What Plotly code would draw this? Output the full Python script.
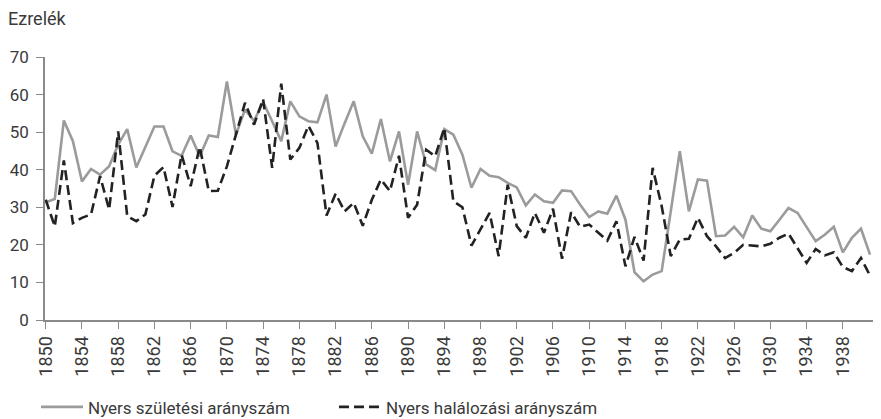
import plotly.graph_objects as go

years = list(range(1850, 1942))

birth_rate = [
    31.3, 32.2, 53.1, 47.6, 36.9, 40.2, 38.7, 40.9, 46.7, 50.8,
    40.6, 46.1, 51.5, 51.5, 44.9, 43.7, 49.1, 43.6, 49.1, 48.7,
    63.5, 49.3, 56.0, 53.0, 58.0, 52.9, 47.6, 58.2, 54.2, 52.9,
    52.6, 60.0, 46.2, 52.4, 58.2, 48.9, 44.3, 53.5, 42.2, 50.2,
    36.0, 50.2, 41.4, 39.9, 50.8, 49.3, 44.0, 35.2, 40.2, 38.4,
    38.0, 36.5, 35.3, 30.5, 33.4, 31.6, 31.2, 34.5, 34.3, 30.7,
    27.4, 28.9, 28.3, 33.1, 26.7, 12.7, 10.3, 12.1, 13.0, 28.9,
    44.9, 28.9, 37.4, 37.1, 22.3, 22.5, 24.8, 22.0, 27.8, 24.3,
    23.6, 26.7, 29.8, 28.5, 24.9, 21.0, 22.7, 24.8, 18.0, 21.9,
    24.3, 17.4,
]

death_rate = [
    32.0, 24.9, 42.5, 25.8, 27.2, 28.1, 38.3, 29.4, 50.2, 27.6,
    26.3, 28.1, 38.4, 40.7, 30.1, 44.0, 35.6, 46.1, 34.3, 34.4,
    40.9, 49.3, 57.8, 52.0, 58.8, 40.5, 62.9, 42.7, 45.8, 51.7,
    47.1, 27.8, 33.6, 28.9, 31.2, 25.1, 32.0, 37.4, 34.3, 43.7,
    27.2, 30.7, 45.3, 43.6, 51.1, 31.6, 30.0, 19.8, 24.0, 28.5,
    17.0, 36.0, 25.0, 21.9, 28.5, 23.2, 29.6, 16.3, 28.7, 24.8,
    25.4, 23.2, 21.1, 26.3, 14.3, 22.1, 15.8, 40.5, 30.3, 17.0,
    21.4, 21.6, 27.2, 22.3, 19.6, 16.5, 17.9, 20.0, 19.8, 19.6,
    20.3, 21.9, 23.0, 19.0, 15.2, 18.9, 17.2, 18.0, 14.1, 13.0,
    16.5, 11.8,
]

x_ticks = list(range(1850, 1939, 4))
y_ticks = [0, 10, 20, 30, 40, 50, 60, 70]

FONT = "Roboto, 'Liberation Sans Narrow', Arial, sans-serif"
TXT = "#3a3a3a"
AXIS = "#8a8a8a"

fig = go.Figure()
fig.add_trace(go.Scatter(
    x=years, y=birth_rate, mode="lines",
    name="Nyers születési arányszám",
    line=dict(color="#9b9b9b", width=2.6),
    cliponaxis=False,
))
fig.add_trace(go.Scatter(
    x=years, y=death_rate, mode="lines",
    name="Nyers halálozási arányszám",
    line=dict(color="#222222", width=2.6, dash="10px,5px"),
    cliponaxis=False,
))

# page body has an 8px margin, so the figure is sized to fit the window
fig.update_layout(
    width=873, height=411,
    margin=dict(l=37, r=3, t=49.3, b=98.5, autoexpand=False),
    plot_bgcolor="white", paper_bgcolor="white",
    font=dict(family=FONT, size=16, color=TXT),
    title=dict(text="Ezrelék", x=0, xref="container", xanchor="left",
               y=1 - 11 / 411, yref="container", yanchor="middle",
               font=dict(family=FONT, size=18, color=TXT)),
    showlegend=True,
    legend=dict(orientation="h", x=-0.0108, xanchor="left", y=-0.332,
                yanchor="middle", font=dict(family=FONT, size=17, color=TXT),
                itemwidth=42, entrywidth=241, entrywidthmode="pixels",
                bgcolor="rgba(0,0,0,0)", traceorder="normal"),
    xaxis=dict(
        range=[1849.92, 1941.88], tickmode="array", tickvals=x_ticks,
        ticktext=[str(v) for v in x_ticks], tickangle=-90,
        showgrid=False, zeroline=False, showline=True, linecolor=AXIS,
        linewidth=2, ticks="outside", ticklen=7, tickcolor=AXIS, tickwidth=1,
        tickfont=dict(family=FONT, size=18, color=TXT),
    ),
    yaxis=dict(
        range=[0, 70], tickmode="array", tickvals=y_ticks,
        showgrid=False, zeroline=False, showline=True, linecolor=AXIS,
        linewidth=1.5, ticks="outside", ticklen=7, tickcolor=AXIS, tickwidth=1,
        tickfont=dict(family=FONT, size=17, color=TXT), ticklabelstandoff=4,
    ),
)

fig.write_html("out.html")
